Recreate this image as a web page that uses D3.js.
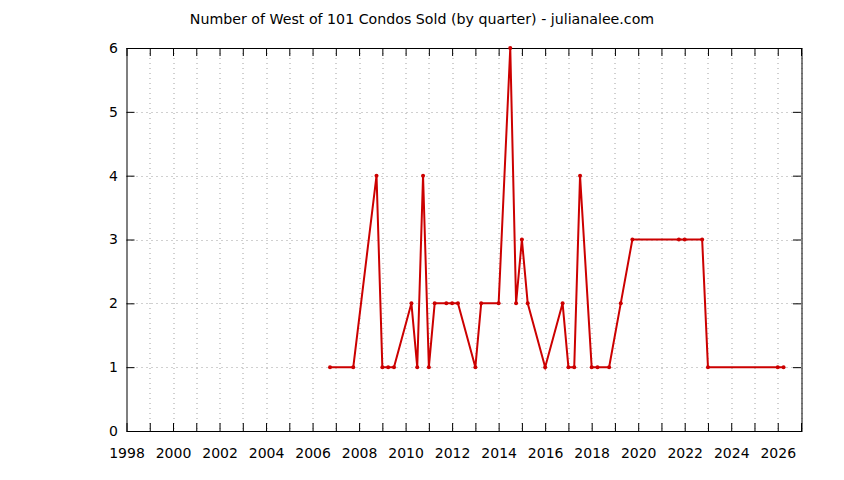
<!DOCTYPE html>
<html>
<head>
<meta charset="utf-8">
<script src="https://cdn.jsdelivr.net/npm/d3@7"></script>
<style>
  body { margin: 0; background: #fff; }
  text { font-family: "DejaVu Sans", sans-serif; fill: #000; }
</style>
</head>
<body>
<div id="chart"></div>
<script>
// Quarter (decimal year) and number of condos sold
var quarters = [2006.75, 2007.75, 2008.75, 2009.0, 2009.25, 2009.5, 2010.25, 2010.5, 2010.75, 2011.0,
  2011.25, 2011.75, 2012.0, 2012.25, 2013.0, 2013.25, 2014.0, 2014.5, 2014.75, 2015.0,
  2015.25, 2016.0, 2016.75, 2017.0, 2017.25, 2017.5, 2018.0, 2018.25, 2018.75, 2019.25,
  2019.75, 2021.75, 2022.0, 2022.75, 2023.0, 2026.0, 2026.25];
var sold = [1, 1, 4, 1, 1, 1, 2, 1, 4, 1,
  2, 2, 2, 2, 1, 2, 2, 6, 2, 3,
  2, 1, 2, 1, 1, 4, 1, 1, 1, 2,
  3, 3, 3, 3, 1, 1, 1];
var yearTicks = d3.range(1998, 2028);
var yTicks = [0, 1, 2, 3, 4, 5, 6];
var title = "Number of West of 101 Condos Sold (by quarter) - julianalee.com";

var svgWidth = 844;
var svgHeight = 480;
var margin = { top: 48, right: 43, bottom: 49, left: 126.5 };
var width = svgWidth - margin.left - margin.right;
var height = svgHeight - margin.top - margin.bottom;

var svg = d3.select("#chart").append("svg")
  .attr("width", svgWidth)
  .attr("height", svgHeight);

var data = quarters.map(function(q, i) { return { q: q, n: sold[i] }; });

var x = d3.scaleLinear().domain([1998, 2027]).range([0, width]);
var y = d3.scaleLinear().domain([0, 6]).range([height, 0]);

var g = svg.append("g")
  .attr("transform", `translate(${margin.left}, ${margin.top})`);

// grid
g.append("g").selectAll("line")
  .data(yearTicks.slice(1))
  .enter().append("line")
  .attr("x1", d => Math.round(x(d)) + 0.5).attr("x2", d => Math.round(x(d)) + 0.5)
  .attr("y1", 0).attr("y2", height)
  .attr("stroke", "#a0a0a0").attr("stroke-width", 1).attr("stroke-dasharray", "1,4");

g.append("g").selectAll("line")
  .data(yTicks.slice(1, -1))
  .enter().append("line")
  .attr("y1", d => Math.round(y(d)) + 0.5).attr("y2", d => Math.round(y(d)) + 0.5)
  .attr("x1", 0).attr("x2", width)
  .attr("stroke", "#a0a0a0").attr("stroke-width", 1).attr("stroke-dasharray", "1,4");

// axes (ticks inward, mirrored)
var fmtX = d => (d % 2 === 0 ? d : "");
g.append("g")
  .attr("transform", `translate(0, ${height})`)
  .call(d3.axisBottom(x).tickValues(yearTicks).tickFormat(fmtX).tickSizeInner(-8).tickSizeOuter(0).tickPadding(17))
  .call(a => a.select(".domain").remove())
  .selectAll("text").style("font-size", "14px");

g.append("g")
  .call(d3.axisTop(x).tickValues(yearTicks).tickFormat("").tickSizeInner(-8).tickSizeOuter(0))
  .call(a => a.select(".domain").remove());

g.append("g")
  .call(d3.axisLeft(y).tickValues(yTicks).tickFormat(d3.format("d")).tickSizeInner(-8).tickSizeOuter(0).tickPadding(8.5))
  .call(a => a.select(".domain").remove())
  .selectAll("text").style("font-size", "14px");

g.append("g")
  .attr("transform", `translate(${width}, 0)`)
  .call(d3.axisRight(y).tickValues(yTicks).tickFormat("").tickSizeInner(-8).tickSizeOuter(0))
  .call(a => a.select(".domain").remove());

g.selectAll(".tick line").attr("stroke", "#000");

// border
g.append("rect")
  .attr("x", 0.5).attr("y", 0.5)
  .attr("width", Math.round(width)).attr("height", Math.round(height))
  .attr("fill", "none").attr("stroke", "#000").attr("stroke-width", 1);

// series
var line = d3.line().x(d => x(d.q)).y(d => y(d.n));
g.append("path")
  .datum(data)
  .attr("d", line)
  .attr("fill", "none")
  .attr("stroke", "#cc0000")
  .attr("stroke-width", 2)
  .attr("stroke-linejoin", "miter");

g.selectAll("circle")
  .data(data)
  .enter().append("circle")
  .attr("cx", d => x(d.q))
  .attr("cy", d => y(d.n))
  .attr("r", 2)
  .attr("fill", "#cc0000");

// title
svg.append("text")
  .attr("x", 422)
  .attr("y", 24)
  .attr("text-anchor", "middle")
  .style("font-size", "14.2px")
  .text(title);
</script>
</body>
</html>
